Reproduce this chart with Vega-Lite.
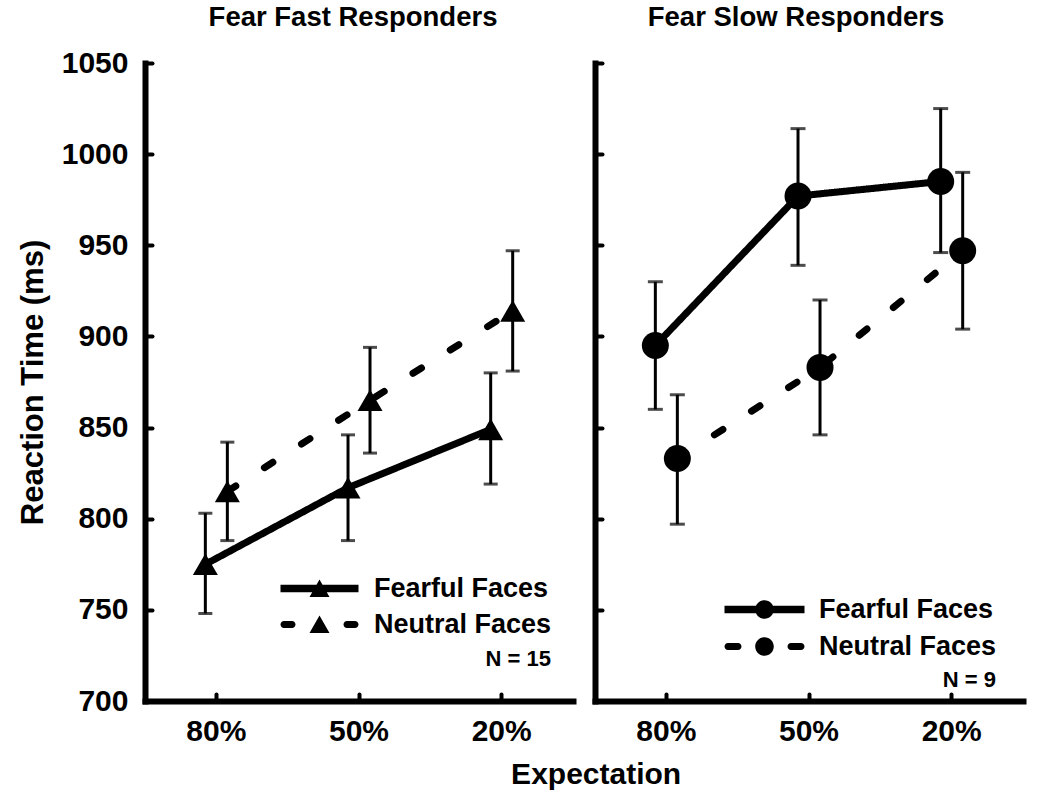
{
  "$schema": "https://vega.github.io/schema/vega-lite/v6.json",
  "padding": {"left": 17, "top": 4, "right": 5, "bottom": 5},
  "background": "white",
  "config": {
    "font": "Liberation Sans",
    "view": {"stroke": null},
    "axis": {
      "labelFont": "Liberation Sans", "labelFontWeight": "bold", "labelColor": "black",
      "domainColor": "black", "domainWidth": 6, "domainCap": "square",
      "tickColor": "black", "tickWidth": 4, "tickCap": "round",
      "grid": false, "titleFont": "Liberation Sans", "titleFontWeight": "bold", "titleColor": "black"
    },
    "legend": {
      "titleOrient": "bottom", "titleAnchor": "end",
      "titleFont": "Liberation Sans", "titleFontSize": 22, "titleFontWeight": "bold", "titleColor": "black", "titlePadding": 5,
      "labelFont": "Liberation Sans", "labelFontSize": 27, "labelFontWeight": "bold", "labelColor": "black", "labelLimit": 400,
      "symbolSize": 400, "symbolStrokeWidth": 7, "symbolFillColor": "black", "symbolStrokeColor": "black", "symbolOpacity": 1,
      "labelOffset": 41, "rowPadding": -11, "padding": 0
    },
    "title": {"font": "Liberation Sans", "fontWeight": "bold", "color": "black"}
  },
  "title": {"text": "Expectation", "orient": "bottom", "anchor": "middle", "fontSize": 30, "offset": 14, "dx": 76},
  "datasets": {
    "fast": [
      {"expectation": "80%", "face": "Fearful Faces", "rt": 775, "lo": 748, "hi": 803},
      {"expectation": "50%", "face": "Fearful Faces", "rt": 817, "lo": 788, "hi": 846},
      {"expectation": "20%", "face": "Fearful Faces", "rt": 849, "lo": 819, "hi": 880},
      {"expectation": "80%", "face": "Neutral Faces", "rt": 815, "lo": 788, "hi": 842},
      {"expectation": "50%", "face": "Neutral Faces", "rt": 865, "lo": 836, "hi": 894},
      {"expectation": "20%", "face": "Neutral Faces", "rt": 914, "lo": 881, "hi": 947}
    ],
    "slow": [
      {"expectation": "80%", "face": "Fearful Faces", "rt": 895, "lo": 860, "hi": 930},
      {"expectation": "50%", "face": "Fearful Faces", "rt": 977, "lo": 939, "hi": 1014},
      {"expectation": "20%", "face": "Fearful Faces", "rt": 985, "lo": 946, "hi": 1025},
      {"expectation": "80%", "face": "Neutral Faces", "rt": 833, "lo": 797, "hi": 868},
      {"expectation": "50%", "face": "Neutral Faces", "rt": 883, "lo": 846, "hi": 920},
      {"expectation": "20%", "face": "Neutral Faces", "rt": 947, "lo": 904, "hi": 990}
    ]
  },
  "spacing": 20,
  "resolve": {"scale": {"shape": "independent", "strokeDash": "independent"}, "legend": {"shape": "independent"}},
  "hconcat": [
    {
      "width": 428, "height": 638,
      "title": {"text": "Fear Fast Responders", "fontSize": 27.5, "offset": 16.5, "dx": -6, "anchor": "middle"},
      "data": {"name": "fast"},
      "encoding": {
        "x": {"field": "expectation", "type": "nominal", "sort": ["80%", "50%", "20%"],
              "scale": {"domain": ["80%", "50%", "20%"], "paddingInner": 0, "paddingOuter": 0},
              "axis": {"title": null, "labelAngle": 0, "labelFontSize": 30, "labelPadding": 22, "tickSize": -7}},
        "xOffset": {"field": "face", "type": "nominal",
              "scale": {"domain": ["Fearful Faces", "Neutral Faces"], "paddingInner": 0, "paddingOuter": 0, "range": [49.35, 93.35]}},
        "y": {"field": "rt", "type": "quantitative", "title": "Reaction Time (ms)",
              "scale": {"domain": [700, 1050], "nice": false, "zero": false},
              "axis": {"values": [700, 750, 800, 850, 900, 950, 1000, 1050], "format": "d", "titleFontSize": 31, "titlePadding": 12, "labelFontSize": 30, "labelPadding": 24, "tickSize": -7}}
      },
      "layer": [
        {"mark": {"type": "line", "color": "black", "strokeWidth": 7, "strokeCap": "round"},
         "encoding": {"strokeDash": {"field": "face", "type": "nominal",
           "scale": {"domain": ["Neutral Faces", "Fearful Faces"], "range": [[10, 34], [1, 0]]}, "legend": null}}},
        {"mark": {"type": "rule", "color": "black", "strokeWidth": 3},
         "encoding": {"y": {"field": "lo", "type": "quantitative", "title": "Reaction Time (ms)"}, "y2": {"field": "hi"}}},
        {"mark": {"type": "tick", "color": "black", "thickness": 3, "size": 14},
         "encoding": {"y": {"field": "lo", "type": "quantitative", "title": "Reaction Time (ms)"}}},
        {"mark": {"type": "tick", "color": "black", "thickness": 3, "size": 14},
         "encoding": {"y": {"field": "hi", "type": "quantitative", "title": "Reaction Time (ms)"}}},
        {"mark": {"type": "point", "shape": "triangle-up", "filled": true, "size": 625, "color": "black", "opacity": 1}},
        {"transform": [{"filter": "datum.face == 'legend only'"}],
         "mark": {"type": "point", "filled": true, "color": "black", "opacity": 1},
         "encoding": {"shape": {"field": "face", "type": "nominal",
           "scale": {"domain": ["Fearful Faces", "Neutral Faces"],
                     "range": [
                       "M-3.9,-0.38H3.9V0.38H-3.9ZM0,-0.9L1,0.84L-1,0.84Z",
                       "M-3.55,-0.35H-2.75A0.35,0.35 0 0,1 -2.75,0.35H-3.55A0.35,0.35 0 0,1 -3.55,-0.35ZM2.75,-0.35H3.55A0.35,0.35 0 0,1 3.55,0.35H2.75A0.35,0.35 0 0,1 2.75,-0.35ZM0,-0.9L1,0.84L-1,0.84Z"
                     ]},
           "legend": {"title": "N = 15", "orient": "none", "legendX": 161, "legendY": 512, "titlePadding": 2}}}}
      ]
    },
    {
      "width": 428, "height": 638,
      "title": {"text": "Fear Slow Responders", "fontSize": 27.5, "offset": 29.5, "dx": -13, "anchor": "middle"},
      "data": {"name": "slow"},
      "encoding": {
        "x": {"field": "expectation", "type": "nominal", "sort": ["80%", "50%", "20%"],
              "scale": {"domain": ["80%", "50%", "20%"], "paddingInner": 0, "paddingOuter": 0},
              "axis": {"title": null, "labelAngle": 0, "labelFontSize": 30, "labelPadding": 22, "tickSize": -7}},
        "xOffset": {"field": "face", "type": "nominal",
              "scale": {"domain": ["Fearful Faces", "Neutral Faces"], "paddingInner": 0, "paddingOuter": 0, "range": [49.35, 93.35]}},
        "y": {"field": "rt", "type": "quantitative", "title": null,
              "scale": {"domain": [700, 1050], "nice": false, "zero": false},
              "axis": {"values": [700, 750, 800, 850, 900, 950, 1000, 1050], "labels": false, "tickSize": -7}}
      },
      "layer": [
        {"mark": {"type": "line", "color": "black", "strokeWidth": 7, "strokeCap": "round"},
         "encoding": {"strokeDash": {"field": "face", "type": "nominal",
           "scale": {"domain": ["Neutral Faces", "Fearful Faces"], "range": [[10, 34], [1, 0]]}, "legend": null}}},
        {"mark": {"type": "rule", "color": "black", "strokeWidth": 3},
         "encoding": {"y": {"field": "lo", "type": "quantitative", "title": null}, "y2": {"field": "hi"}}},
        {"mark": {"type": "tick", "color": "black", "thickness": 3, "size": 15},
         "encoding": {"y": {"field": "lo", "type": "quantitative", "title": null}}},
        {"mark": {"type": "tick", "color": "black", "thickness": 3, "size": 15},
         "encoding": {"y": {"field": "hi", "type": "quantitative", "title": null}}},
        {"mark": {"type": "point", "shape": "circle", "filled": true, "size": 729, "color": "black", "opacity": 1}},
        {"transform": [{"filter": "datum.face == 'legend only'"}],
         "mark": {"type": "point", "filled": true, "color": "black", "opacity": 1},
         "encoding": {"shape": {"field": "face", "type": "nominal",
           "scale": {"domain": ["Fearful Faces", "Neutral Faces"],
                     "range": [
                       "M-4,-0.38H4V0.38H-4ZM0.93,0A0.93,0.93 0 1,1 -0.93,0A0.93,0.93 0 1,1 0.93,0Z",
                       "M-3.65,-0.35H-2.65A0.35,0.35 0 0,1 -2.65,0.35H-3.65A0.35,0.35 0 0,1 -3.65,-0.35ZM2.65,-0.35H3.65A0.35,0.35 0 0,1 3.65,0.35H2.65A0.35,0.35 0 0,1 2.65,-0.35ZM0.93,0A0.93,0.93 0 1,1 -0.93,0A0.93,0.93 0 1,1 0.93,0Z"
                     ]},
           "legend": {"title": "N = 9", "orient": "none", "legendX": 156, "legendY": 533, "rowPadding": -15, "titlePadding": 0}}}}
      ]
    }
  ]
}
